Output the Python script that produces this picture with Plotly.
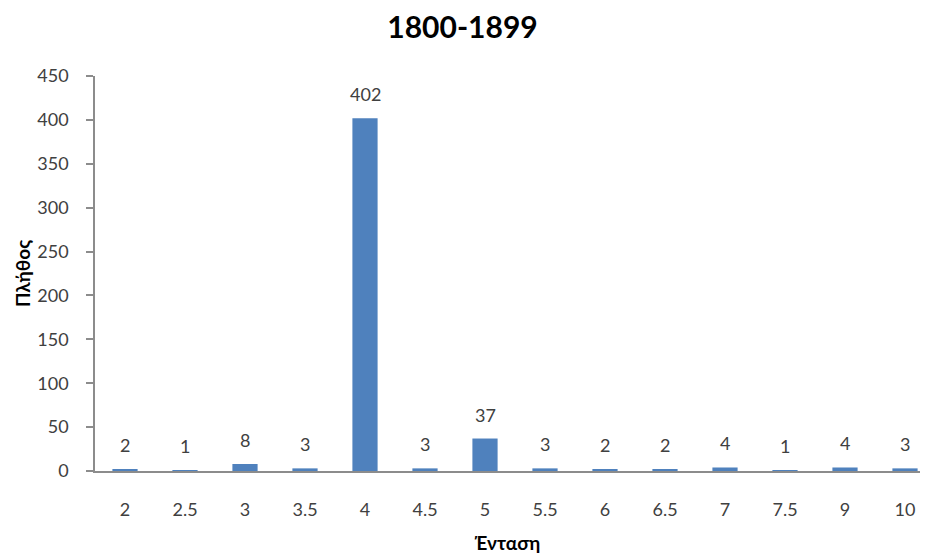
import plotly.graph_objects as go

# Earthquake counts per intensity, 1800-1899
intensity = ["2", "2.5", "3", "3.5", "4", "4.5", "5", "5.5", "6", "6.5", "7", "7.5", "9", "10"]
counts = [2, 1, 8, 3, 402, 3, 37, 3, 2, 2, 4, 1, 4, 3]
y_ticks = [0, 50, 100, 150, 200, 250, 300, 350, 400, 450]

FONT = "Lato, 'Open Sans', sans-serif"
BAR = "#4F81BD"
AXIS = "#8C8C8C"
TXT = "#404040"

fig = go.Figure(
    go.Bar(
        x=intensity,
        y=counts,
        marker=dict(color=BAR, line=dict(width=0)),
        width=0.42,
        hoverinfo="x+y",
    )
)

# value labels above each bar (category axis: position by index)
for i, val in enumerate(counts):
    fig.add_annotation(
        x=i, y=val, text=str(val), showarrow=False,
        yanchor="middle", yshift=24,
        font=dict(family=FONT, size=18, color=TXT),
    )

fig.update_layout(
    width=925, height=556,
    margin=dict(l=95, r=5, t=76, b=85),
    paper_bgcolor="white", plot_bgcolor="white",
    showlegend=False,
    title=dict(
        text="<b>1800-1899</b>", x=0.5, xanchor="center", y=0.95, yanchor="middle",
        font=dict(family=FONT, size=30, color="#000000"),
    ),
    xaxis=dict(
        type="category",
        range=[-0.5, 13.25],
        showline=True, linecolor=AXIS, linewidth=1.5,
        ticks="", showgrid=False, zeroline=False,
        ticklabelstandoff=22,
        tickfont=dict(family=FONT, size=18, color=TXT),
        title=dict(text="<b>Ένταση</b>", standoff=17,
                   font=dict(family=FONT, size=19, color="#000000")),
    ),
    yaxis=dict(
        range=[0, 450],
        tickvals=y_ticks,
        showline=True, linecolor=AXIS, linewidth=1.5,
        ticks="outside", ticklen=7, tickcolor=AXIS, tickwidth=1.5,
        showgrid=False, zeroline=False,
        ticklabelstandoff=14,
        tickfont=dict(family=FONT, size=18, color=TXT),
        title=dict(text="<b>Πλήθος</b>", standoff=2,
                   font=dict(family=FONT, size=19, color="#000000")),
    ),
)

fig.write_html("out.html")
